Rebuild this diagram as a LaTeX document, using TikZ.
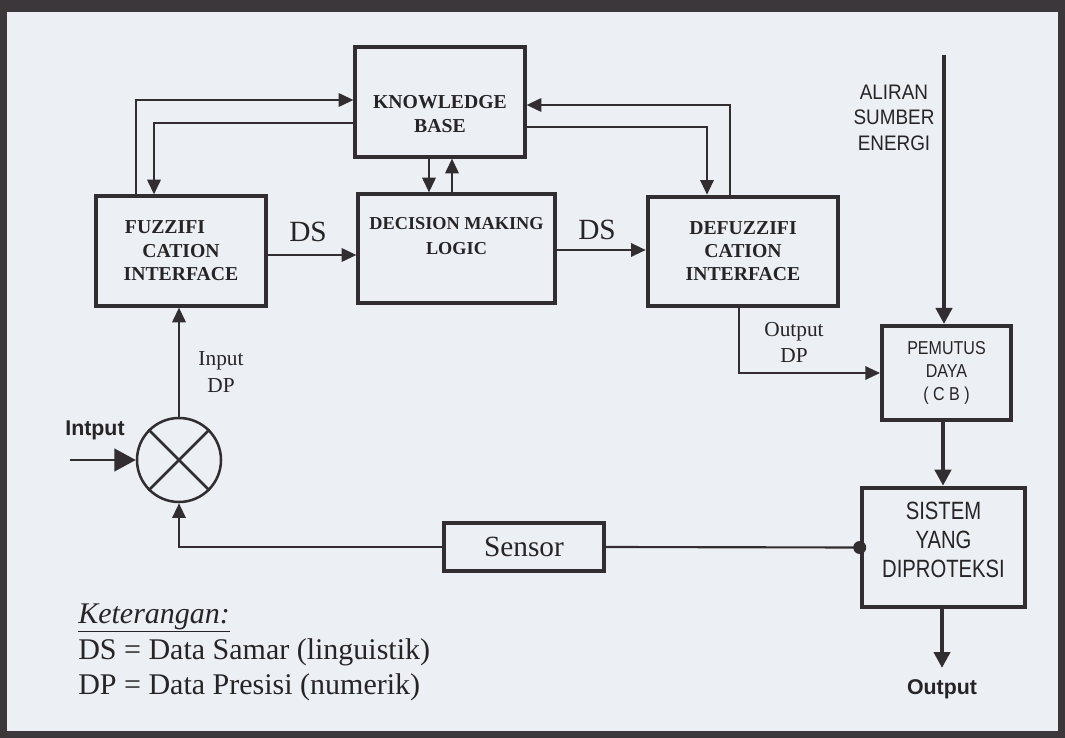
\documentclass[tikz,border=0pt]{standalone}
\usepackage{fontspec}
\setmainfont{Liberation Serif}
\newfontfamily\sansf{Liberation Sans}
\newfontfamily\alirf[FakeStretch=0.9]{Liberation Sans}
\newfontfamily\pemf[FakeStretch=0.86]{Liberation Sans}
\newfontfamily\sisf[FakeStretch=0.81]{Liberation Sans}
\usetikzlibrary{arrows.meta,positioning}
\definecolor{ink}{RGB}{50,45,48}
\definecolor{txt}{RGB}{38,36,38}
\definecolor{paper}{RGB}{236,239,244}
\definecolor{frame}{RGB}{60,55,58}
\begin{document}
\begin{tikzpicture}[x=0.75pt,y=-0.75pt,
  box/.style={draw=ink,line width=2.4pt,rectangle,inner sep=0pt,text=txt},
  hbox/.style={box,line width=3.4pt},
  con/.style={draw=ink,line width=1.6pt},
  arr/.style={con,-{Triangle[length=11pt,width=10pt]}},
  barr/.style={draw=ink,line width=3pt,-{Triangle[length=12pt,width=12pt]}},
  lbl/.style={text=txt,inner sep=0pt,align=center},
  serifbox/.style={font=\bfseries\fontsize{14.8}{17.6}\selectfont},
]
\useasboundingbox (0,0) rectangle (1065,738);
\fill[frame] (0,0) rectangle (1065,738);
\fill[paper] (7,12) rectangle (1058,731);

% blocks
\node[box,minimum width=127.5pt,minimum height=82.5pt,
  label={[lbl,yshift=-9.4pt,font=\bfseries\fontsize{14.8}{18}\selectfont]center:KNOWLEDGE\\BASE}] (kb) at (440,102) {};
\node[box,minimum width=127.5pt,minimum height=82.5pt,align=center,serifbox] (fuz) at (181,251) {FUZZIFI\hspace*{24pt}\\CATION\\INTERFACE};
\node[box,minimum width=147.75pt,minimum height=81.75pt,
  label={[lbl,yshift=9pt,font=\bfseries\fontsize{13.7}{18.75}\selectfont]center:DECISION MAKING\\LOGIC}] (dml) at (456.5,248.5) {};
\node[hbox,minimum width=142.5pt,minimum height=81.75pt,align=center,font=\bfseries\fontsize{14.8}{17.25}\selectfont] (def) at (743,251.5) {DEFUZZIFI\\CATION\\INTERFACE};
\node[hbox,line width=3pt,minimum width=96.75pt,minimum height=70.5pt,align=center,font=\pemf\fontsize{14}{17.25}\selectfont] (pem) at (946.5,373) {PEMUTUS\\DAYA\\( C B )};
\node[hbox,minimum width=122.25pt,minimum height=89.25pt,
  label={[lbl,yshift=5.6pt,font=\sisf\fontsize{18.75}{21.75}\selectfont]center:SISTEM\\YANG\\DIPROTEKSI}] (sis) at (943.5,547.5) {};
\node[box,minimum width=120pt,minimum height=36pt,font=\fontsize{22}{24}\selectfont] (sen) at (524,547) {Sensor};
\node[draw=ink,line width=1.9pt,circle,minimum size=63pt,inner sep=0pt] (cir) at (179,460) {};
\draw[con,line width=1.9pt] (cir.north west) -- (cir.south east);
\draw[con,line width=1.9pt] (cir.north east) -- (cir.south west);

% helper coordinates
\coordinate (x136) at (136,0);
\coordinate (x154) at (154,0);
\coordinate (y100) at (0,100);
\coordinate (y123) at (0,123);
\coordinate (x429) at (429,0);
\coordinate (x452) at (452,0);
\coordinate (y255) at (0,255);
\coordinate (y250) at (0,250);
\coordinate (x730) at (730,0);
\coordinate (x707) at (707,0);
\coordinate (y105) at (0,105);
\coordinate (y127) at (0,127);
\coordinate (x739) at (739,0);
\coordinate (x943) at (943,0);
\coordinate (src) at (944,55);
\coordinate (outend) at (942,668);
\coordinate (inp) at (70,460);

% connectors
\draw[arr] (fuz.north -| x136) |- (kb.west |- y100);
\draw[arr] (kb.west |- y123) -| (fuz.north -| x154);
\draw[arr] (kb.south -| x429) -- (dml.north -| x429);
\draw[arr] (dml.north -| x452) -- (kb.south -| x452);
\draw[arr] (fuz.east |- y255) -- (dml.west |- y255);
\draw[arr] (dml.east |- y250) -- (def.west |- y250);
\draw[arr] (def.north -| x730) |- (kb.east |- y105);
\draw[arr] (kb.east |- y127) -| (def.north -| x707);
\draw[barr,line width=3.5pt] (src) -- (pem.north -| src);
\draw[arr] (def.south -| x739) |- (pem.west);
\draw[barr] (pem.south -| x943) -- (sis.north -| x943);
\draw[barr] (sis.south -| outend) -- (outend);
\draw[con] (sis.west) -- (sen.east);
\draw[arr] (sen.west) -| (cir.south);
\fill[ink] (sis.west) circle[radius=6.5];
\draw[con,-{Triangle[length=16pt,width=17pt]}] (inp) -- (cir.west);
\draw[arr] (cir.north) -- (fuz.south -| cir.north);

% labels
\node[lbl,font=\fontsize{22}{24}\selectfont] (ds1) at (308,232) {DS};
\node[lbl,font=\fontsize{22}{24}\selectfont] (ds2) at (597,230) {DS};
\node[lbl,font=\fontsize{16}{20}\selectfont] (indp) at (221,372) {Input\\DP};
\node[lbl,font=\fontsize{16}{19.5}\selectfont] (outdp) at (794,342) {Output\\DP};
\node[lbl,font=\alirf\fontsize{15.75}{19.1}\selectfont] (alir) at (894,117.5) {ALIRAN\\SUMBER\\ENERGI};
\node[lbl,font=\sansf\bfseries\fontsize{16}{18}\selectfont] (intp) at (95,430) {Intput};
\node[lbl,font=\sansf\bfseries\fontsize{16}{18}\selectfont] (outp) at (942,689) {Output};

% legend
\node[lbl,anchor=base west,font=\fontsize{22.5}{24}\selectfont] (ket) at (78,623) {\underline{\textit{Keterangan:}}};
\node[lbl,anchor=base west,font=\fontsize{22.5}{24}\selectfont] (dsk) at (78,659) {DS = Data Samar (linguistik)};
\node[lbl,anchor=base west,font=\fontsize{22.5}{24}\selectfont] (dpk) at (78,694) {DP = Data Presisi (numerik)};
\end{tikzpicture}
\end{document}
